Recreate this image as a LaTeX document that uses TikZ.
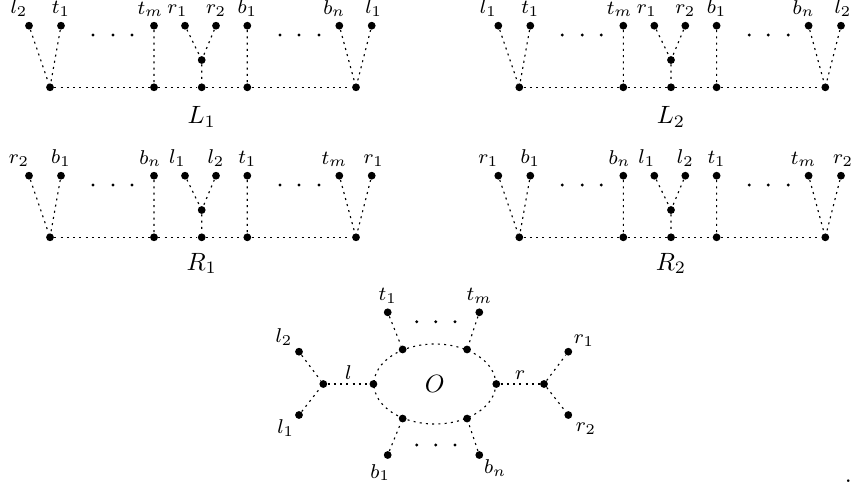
\documentclass[tikz,border=0pt]{standalone}
\usepackage{amsmath,amssymb}
\usetikzlibrary{positioning,shapes.geometric}
\tikzset{
  tensor/.style={
    inner sep = 1.1pt,
    shape = circle,
    fill
  },
  t/.style={
    inner sep = 0.45pt,
    shape = circle,
    fill
  },
  conn/.style={
    dash pattern=on 0.8pt off 1.7pt,
    line width=0.45pt
  },
  oval/.style={
    shape = ellipse,
    draw,
    conn,
    inner sep = 0pt,
    minimum width = 48.7pt,
    minimum height = 32pt
  },
  every label/.style = {
    font=\footnotesize,
    inner sep=1.7pt
  },
}
% one strip of leaves: #1..#8 are the top labels, left to right
\newcommand{\strip}[8]{%
  \foreach \x/\lab/\dx [count=\i] in {29/#1/-4, 61/#2/0, 154/#3/-1.5, 185/#4/-3,
      216/#5/0, 247.3/#6/0, 339.3/#7/-2, 371.7/#8/0.8}{
    \node[tensor, label={[xshift=\dx pt]above:$\lab$}] (top\i) at (\x,25.7) {}; }
  \foreach \x [count=\i] in {93,113,132,280,299,319}{
    \node[t] (dot\i) at (\x,35) {}; }
  \foreach \x [count=\i] in {50,154,201.7,247.3,356}{
    \node[tensor] (bot\i) at (\x,87.3) {}; }
  \node[tensor] (mid) at (201.7,60) {};
  \draw[conn] (top1) -- (bot1) (top2) -- (bot1) (top3) -- (bot2)
              (top4) -- (mid) (top5) -- (mid) (mid) -- (bot3)
              (top6) -- (bot4) (top7) -- (bot5) (top8) -- (bot5);
  \draw[conn] (bot1) -- (bot2) -- (bot3) -- (bot4) -- (bot5);
}
\begin{document}
\begin{tikzpicture}[x=0.4pt,y=-0.4pt]
\useasboundingbox (0,0) rectangle (858,487);
% the four strips
\begin{scope}[name prefix=L1-]
  \strip{l_2}{t_1}{t_m}{r_1}{r_2}{b_1}{b_n}{l_1}
\end{scope}
\begin{scope}[shift={(469.3,0)}, name prefix=L2-]
  \strip{l_1}{t_1}{t_m}{r_1}{r_2}{b_1}{b_n}{l_2}
\end{scope}
\begin{scope}[shift={(0,150)}, name prefix=R1-]
  \strip{r_2}{b_1}{b_n}{l_1}{l_2}{t_1}{t_m}{r_1}
\end{scope}
\begin{scope}[shift={(469.3,150)}, name prefix=R2-]
  \strip{r_1}{b_1}{b_n}{l_1}{l_2}{t_1}{t_m}{r_2}
\end{scope}
\node[anchor=base] (L1) at (201.7,123.3) {$L_1$};
\node[anchor=base] (L2) at (671,123.3) {$L_2$};
\node[anchor=base] (R1) at (201.7,270) {$R_1$};
\node[anchor=base] (R2) at (671,270) {$R_2$};
% the oval
\node[oval] (O) at (434.85,384) {$O$};
\node[tensor] (Ol) at (O.west) {};
\node[tensor] (Or) at (O.east) {};
\node[tensor] (Otl) at (O.133) {};
\node[tensor] (Otr) at (O.47) {};
\node[tensor] (Obl) at (O.227) {};
\node[tensor] (Obr) at (O.313) {};
\node[tensor, label=above:$t_1$] (t1) at (387.7,312.3) {};
\node[tensor, label=above:$t_m$] (tm) at (479.3,312.3) {};
\node[tensor, label={[xshift=-3pt]below:$b_1$}] (b1) at (387.7,455) {};
\node[tensor, label={[inner sep=0.5pt]below right:$b_n$}] (bn) at (479.3,455) {};
\foreach \x [count=\i] in {416.7,435.7,455}{
  \node[t] (up\i) at (\x,321.7) {};
  \node[t] (dn\i) at (\x,445) {}; }
\node[tensor] (lj) at (323.3,384) {};
\node[tensor, label={[inner sep=1.2pt]above left:$l_2$}] (l2) at (299,351.7) {};
\node[tensor, label={[inner sep=0.5pt]below left:$l_1$}] (l1) at (299,415) {};
\node[tensor] (rj) at (544,384) {};
\node[tensor, label={[inner sep=0.8pt]above right:$r_1$}] (r1) at (568.3,351.7) {};
\node[tensor, label={[inner sep=1.6pt]below right:$r_2$}] (r2) at (568.3,415) {};
\draw[conn] (t1) -- (Otl) (tm) -- (Otr) (b1) -- (Obl) (bn) -- (Obr);
\draw[conn] (l2) -- (lj) (l1) -- (lj) (rj) -- (r1) (rj) -- (r2);
\draw[conn] (lj) -- node[above, font=\footnotesize, inner sep=1.6pt] (lname) {$l$} (Ol);
\draw[conn] (Or) -- node[above, font=\footnotesize, inner sep=1.6pt] (rname) {$r$} (rj);
\node[anchor=base] (stop) at (848.3,482.3) {.};
\end{tikzpicture}
\end{document}
